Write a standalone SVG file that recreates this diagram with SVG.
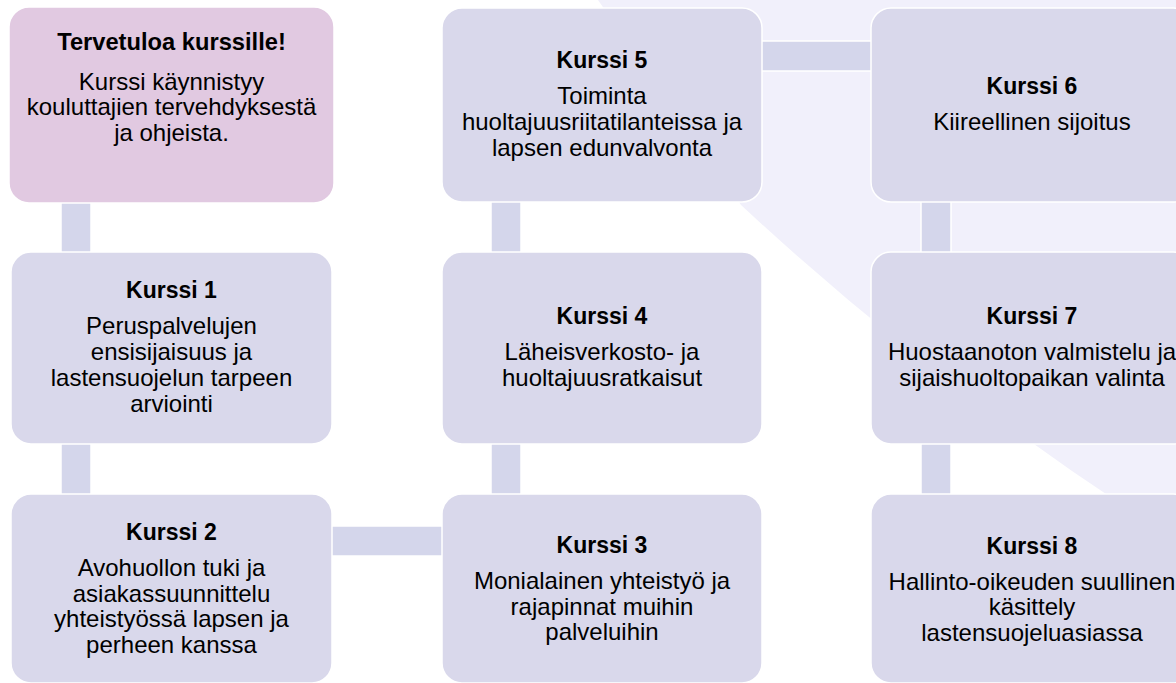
<svg xmlns="http://www.w3.org/2000/svg" width="1176" height="683" viewBox="0 0 1176 683">
<style>
.box{fill:#D9D8EB;stroke:#FFFFFF;stroke-width:1.5}
.welcome{fill:#E1C9E1;stroke:#FFFFFF;stroke-width:1.5}
.conn{fill:#D4D6EB;stroke:#FFFFFF;stroke-width:1.5}
.t{font-family:"Liberation Sans",Arial,sans-serif;font-size:23px;font-weight:bold;fill:#000;text-anchor:middle}
.b{font-family:"Liberation Sans",Arial,sans-serif;font-size:24px;fill:#000;text-anchor:middle}
</style>
<rect x="0" y="0" width="1176" height="683" fill="#FFFFFF"/>
<path id="backdrop" d="M598,0 L741,205 Q940,390 1176,540 L1176,0 Z" fill="#F1F0FB"/>
<g id="connectors">
<rect class="conn" x="61" y="201" width="30" height="53"/>
<rect class="conn" x="61" y="442" width="30" height="54"/>
<rect class="conn" x="330" y="526" width="114" height="30"/>
<rect class="conn" x="491" y="442" width="30" height="54"/>
<rect class="conn" x="491" y="200" width="30" height="54"/>
<rect class="conn" x="760" y="41" width="113" height="30"/>
<rect class="conn" x="921" y="200" width="30" height="54"/>
<rect class="conn" x="921" y="441" width="30" height="55"/>
</g>
<g id="welcome">
<rect class="welcome" x="9" y="7" width="325" height="196" rx="20"/>
<text class="t" x="171.5" y="50.3" style="font-size:23.7px">Tervetuloa kurssille!</text>
<text class="b" x="171.5" y="89.5">Kurssi käynnistyy</text>
<text class="b" x="171.5" y="115">kouluttajien tervehdyksestä</text>
<text class="b" x="171.5" y="140.5">ja ohjeista.</text>
</g>
<g id="kurssi1">
<rect class="box" x="11" y="252" width="321" height="192" rx="20"/>
<text class="t" x="171.5" y="298.3">Kurssi 1</text>
<text class="b" x="171.5" y="334.3">Peruspalvelujen</text>
<text class="b" x="171.5" y="360.1">ensisijaisuus ja</text>
<text class="b" x="171.5" y="385.9">lastensuojelun tarpeen</text>
<text class="b" x="171.5" y="411.7">arviointi</text>
</g>
<g id="kurssi2">
<rect class="box" x="11" y="494" width="321" height="189" rx="20"/>
<text class="t" x="171.5" y="539.8">Kurssi 2</text>
<text class="b" x="171.5" y="575.8">Avohuollon tuki ja</text>
<text class="b" x="171.5" y="601.6">asiakassuunnittelu</text>
<text class="b" x="171.5" y="627.4">yhteistyössä lapsen ja</text>
<text class="b" x="171.5" y="653.2">perheen kanssa</text>
</g>
<g id="kurssi3">
<rect class="box" x="442" y="494" width="320" height="189" rx="20"/>
<text class="t" x="602" y="552.8">Kurssi 3</text>
<text class="b" x="602" y="588.8">Monialainen yhteistyö ja</text>
<text class="b" x="602" y="614.6">rajapinnat muihin</text>
<text class="b" x="602" y="640.4">palveluihin</text>
</g>
<g id="kurssi4">
<rect class="box" x="442" y="252" width="320" height="192" rx="20"/>
<text class="t" x="602" y="324.3">Kurssi 4</text>
<text class="b" x="602" y="360.3">Läheisverkosto- ja</text>
<text class="b" x="602" y="386.1">huoltajuusratkaisut</text>
</g>
<g id="kurssi5">
<rect class="box" x="442" y="8" width="320" height="194" rx="20"/>
<text class="t" x="602" y="68.3">Kurssi 5</text>
<text class="b" x="602" y="104.3">Toiminta</text>
<text class="b" x="602" y="130.1">huoltajuusriitatilanteissa ja</text>
<text class="b" x="602" y="155.9">lapsen edunvalvonta</text>
</g>
<g id="kurssi6">
<rect class="box" x="871" y="8" width="322" height="194" rx="20"/>
<text class="t" x="1032" y="94.3">Kurssi 6</text>
<text class="b" x="1032" y="130.3">Kiireellinen sijoitus</text>
</g>
<g id="kurssi7">
<rect class="box" x="871" y="252" width="322" height="192" rx="20"/>
<text class="t" x="1032" y="324.3">Kurssi 7</text>
<text class="b" x="1032" y="360.3">Huostaanoton valmistelu ja</text>
<text class="b" x="1032" y="386.1">sijaishuoltopaikan valinta</text>
</g>
<g id="kurssi8">
<rect class="box" x="871" y="494" width="322" height="189" rx="20"/>
<text class="t" x="1032" y="553.5">Kurssi 8</text>
<text class="b" x="1032" y="589.5">Hallinto-oikeuden suullinen</text>
<text class="b" x="1032" y="615.3">käsittely</text>
<text class="b" x="1032" y="641.1">lastensuojeluasiassa</text>
</g>
</svg>
